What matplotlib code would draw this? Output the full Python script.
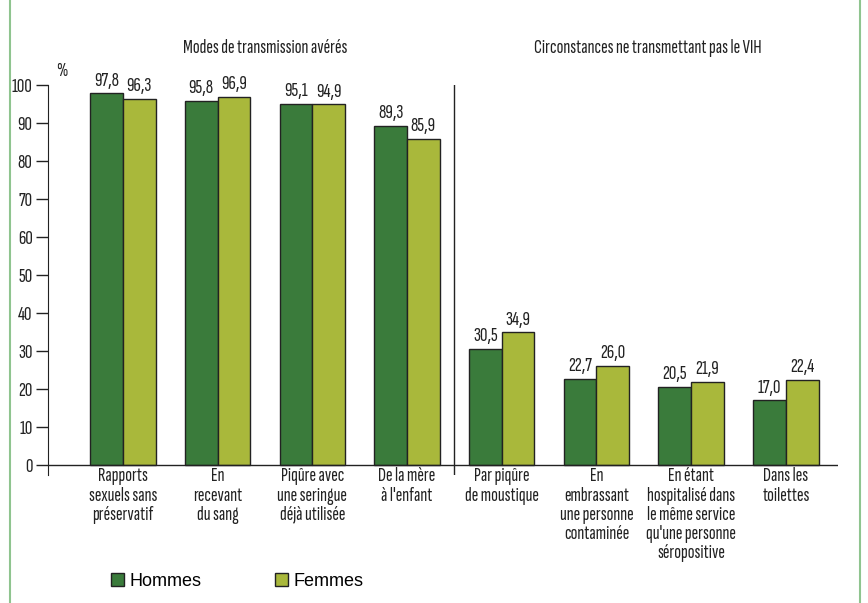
import numpy as np
import matplotlib.pyplot as plt
from matplotlib.lines import Line2D
from matplotlib.patches import Patch

categories = [
    "Rapports\nsexuels sans\npréservatif",
    "En\nrecevant\ndu sang",
    "Piqûre avec\nune seringue\ndéjà utilisée",
    "De la mère\nà l'enfant",
    "Par piqûre\nde moustique",
    "En\nembrassant\nune personne\ncontaminée",
    "En étant\nhospitalisé dans\nle même service\nqu'une personne\nséropositive",
    "Dans les\ntoilettes",
]
hommes = [97.8, 95.8, 95.1, 89.3, 30.5, 22.7, 20.5, 17.0]
femmes = [96.3, 96.9, 94.9, 85.9, 34.9, 26.0, 21.9, 22.4]
yticks = [0, 10, 20, 30, 40, 50, 60, 70, 80, 90, 100]

c_h = "#3a7b3b"
c_f = "#a9b83b"
ink = "#222222"
narrow = ["Sofia Sans Extra Condensed", "Roboto Condensed", "DejaVu Sans"]

fig = plt.figure(figsize=(8.68, 6.03), dpi=100)
ax = fig.add_axes([48 / 868, (603 - 475) / 603, (838 - 48) / 868, (475 - 85) / 603])

x = np.arange(len(categories))
w = 0.345
ax.bar(x - w / 2, hommes, w, color=c_h, edgecolor=ink, linewidth=1)
ax.bar(x + w / 2, femmes, w, color=c_f, edgecolor=ink, linewidth=1)

for xi, h, f in zip(x, hommes, femmes):
    ax.text(xi - w / 2, h + 1.0, f"{h:.1f}".replace(".", ","), ha="center", va="bottom",
            fontsize=15, family=narrow, color=ink, fontweight="light")
    ax.text(xi + w / 2, f + 1.0, f"{f:.1f}".replace(".", ","), ha="center", va="bottom",
            fontsize=15, family=narrow, color=ink, fontweight="light")

ax.set_xlim(-0.79, 7.55)
ax.set_ylim(-2.6, 100)
ax.axhline(0, color=ink, lw=1)
ax.plot([3.5, 3.5], [-2.6, 100], color=ink, lw=1)

for s in ["top", "right", "bottom"]:
    ax.spines[s].set_visible(False)
ax.spines["left"].set_bounds(-2.6, 100)
ax.spines["left"].set_color(ink)
ax.set_yticks(yticks)
ax.set_yticklabels([str(t) for t in yticks], family=narrow, fontsize=15, color=ink,
                   fontweight="light")
ax.tick_params(axis="y", length=9, width=1, color=ink, pad=2)
ax.set_xticks([])

for xi, lab in zip(x, categories):
    ax.text(xi, -0.6, lab, ha="center", va="top", fontsize=14.5, family=narrow,
            color=ink, linespacing=1.08, fontweight="light")

ax.text(0.01, 101.3, "%", transform=ax.get_yaxis_transform(), ha="left", va="bottom",
        fontsize=14, family=narrow, color=ink, fontweight="light")

fig.text(265 / 868, 1 - 48 / 603, "Modes de transmission avérés", ha="center", va="center",
         fontsize=14.5, family=narrow, color=ink, fontweight="light")
fig.text(648 / 868, 1 - 48 / 603, "Circonstances ne transmettant pas le VIH", ha="center",
         va="center", fontsize=14.5, family=narrow, color=ink, fontweight="light")

handles = [Patch(facecolor=c_h, edgecolor=ink), Patch(facecolor=c_f, edgecolor=ink)]
fig.legend(handles, ["Hommes", "Femmes"], loc="center left", bbox_to_anchor=(95 / 868, 1 - 581 / 603),
           ncol=2, frameon=False, handlelength=0.7, handleheight=0.7,
           handletextpad=0.3, columnspacing=4.1, prop={"family": "Liberation Sans", "size": 13})

fig.add_artist(Line2D([10 / 868, 10 / 868], [0, 1], color="#8fc48f", lw=1.5))
fig.add_artist(Line2D([860 / 868, 860 / 868], [0, 1], color="#8fc48f", lw=1.5))

fig.savefig("out.png", dpi=100)
